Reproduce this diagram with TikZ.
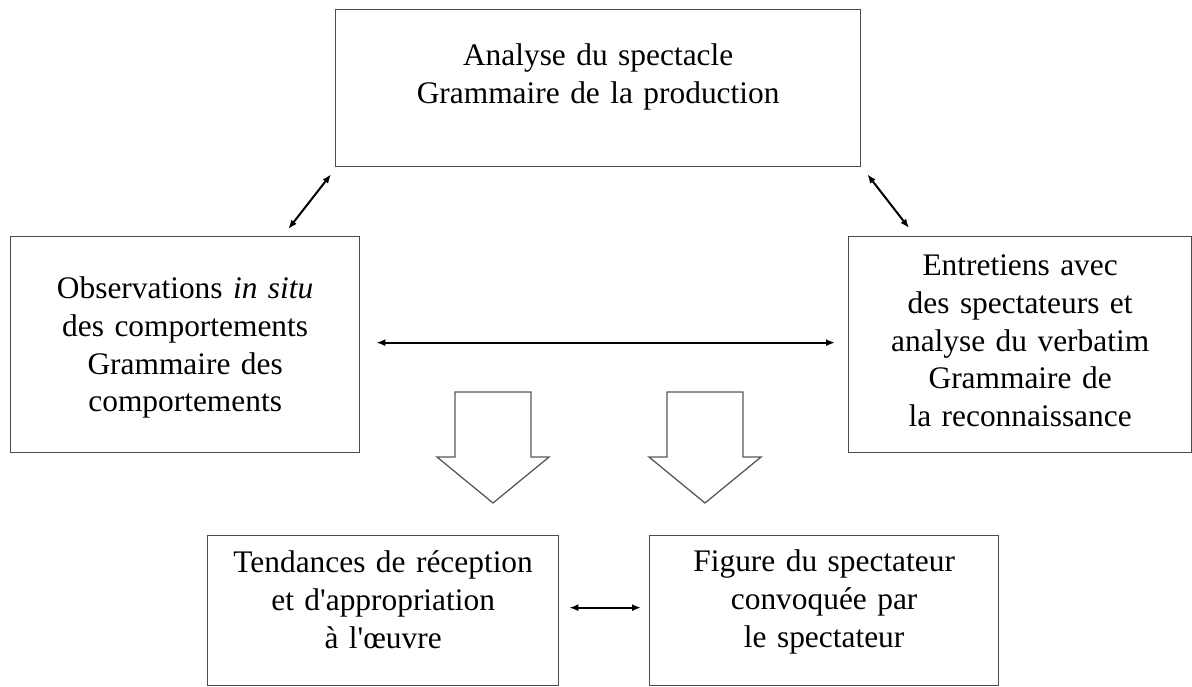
\documentclass[tikz,border=0pt]{standalone}
\usepackage{fontspec}
\setmainfont{Liberation Serif}
\usetikzlibrary{arrows.meta}

\begin{document}
\begin{tikzpicture}[
    x=1pt, y=-1pt,
    box/.style={draw=black!70, line width=1.3pt, inner sep=0pt, anchor=north west, align=center, font=\fontsize{31.4}{37.7}\selectfont},
    link/.style={{Latex[length=9pt,width=7pt]}-{Latex[length=9pt,width=7pt]}, line width=2pt},
    bigarrow/.style={draw=black!65, line width=1.3pt, fill=white, line join=miter} % grosses fleches
    ]
    \useasboundingbox (0,0) rectangle (1192,686);
    \node[box, text width=525pt, text height=56pt, text depth=101pt] (prod) at (335,9) {Analyse du spectacle\\Grammaire de la production};
    \node[box, text width=349pt, text height=62pt, text depth=154pt] (obs) at (10,236) {Observations \textit{in situ}\\des comportements\\Grammaire des\\comportements};
    \node[box, text width=343pt, text height=39pt, text depth=177pt] (entr) at (848,236) {Entretiens avec\\des spectateurs et\\analyse du verbatim\\Grammaire de\\la reconnaissance};
    \node[box, text width=351pt, text height=37pt, text depth=113pt] (tend) at (207,535) {Tendances de r\'eception\\et d\textquotesingle appropriation\\\`a l\textquotesingle \oe uvre};
    \node[box, text width=349pt, text height=36pt, text depth=114pt] (fig) at (649,535) {Figure du spectateur\\convoqu\'ee par\\le spectateur};
    % liaisons
    \draw[link] ([shift={(-72,-7)}]obs.north east) -- ([shift={(-4,7)}]prod.south west);
    \draw[link] ([shift={(6,7)}]prod.south east) -- ([shift={(61,-8)}]entr.north west);
    \draw[link] ([shift={(16,-2)}]obs.east) -- ([shift={(-13,-2)}]entr.west);
    \draw[link] ([shift={(10,-3)}]tend.east) -- ([shift={(-8,-3)}]fig.west);
    \foreach \cx in {493,705}
        \draw[bigarrow] (\cx-38,392) -- (\cx+38,392) -- (\cx+38,457) -- (\cx+56,457) -- (\cx,503) -- (\cx-56,457) -- (\cx-38,457) -- cycle;
\end{tikzpicture}
\end{document}
